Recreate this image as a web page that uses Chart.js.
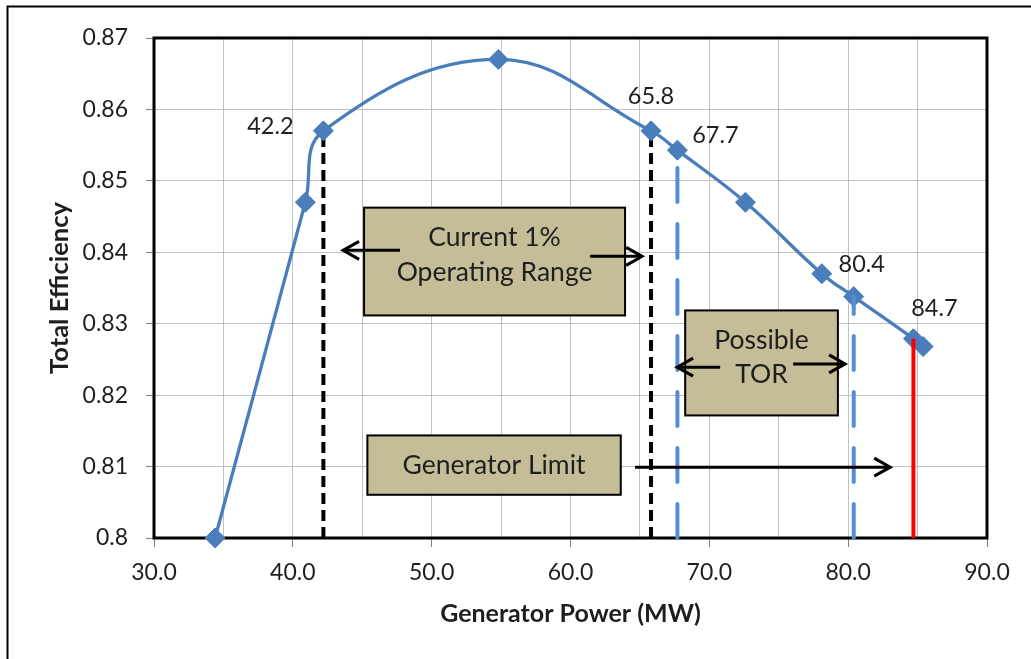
<!DOCTYPE html>
<html><head><meta charset="utf-8">
<script src="https://cdn.jsdelivr.net/npm/chart.js@4.4.1/dist/chart.umd.min.js"></script>
<style>html,body{margin:0;padding:0;background:#fff;}canvas{display:block;}</style>
</head><body>
<canvas id="c" width="1031" height="659"></canvas>
<script>
// ---- data ----
const powerMW    = [34.4, 40.9, 42.2, 54.8, 65.8, 67.7, 72.6, 78.1, 80.4, 84.7, 85.4];
const efficiency = [0.800, 0.847, 0.857, 0.867, 0.857, 0.8543, 0.847, 0.837, 0.8338, 0.8279, 0.8268];
const xGridValues = [30, 35, 40, 45, 50, 55, 60, 65, 70, 75, 80, 85, 90];
const xTickValues = [30, 40, 50, 60, 70, 80, 90];
const xTickLabels = ['30.0', '40.0', '50.0', '60.0', '70.0', '80.0', '90.0'];
const yTickValues = [0.80, 0.81, 0.82, 0.83, 0.84, 0.85, 0.86, 0.87];
const yTickLabels = ['0.8', '0.81', '0.82', '0.83', '0.84', '0.85', '0.86', '0.87'];
const currentRange = [42.2, 65.8];
const possibleTOR = [67.7, 80.4];
const generatorLimit = [84.7];
const labeledPoints = [42.2, 65.8, 67.7, 80.4, 84.7];
const boxTexts = [['Current 1%', 'Operating Range'], ['Possible', 'TOR'], ['Generator Limit']];

// ---- annotation geometry (data coordinates) ----
const boxGeom = [
  {x0: 45.13, x1: 63.93, y0: 0.84625, y1: 0.83116},
  {x0: 68.26, x1: 79.26, y0: 0.83186, y1: 0.81716},
  {x0: 45.37, x1: 63.62, y0: 0.81436, y1: 0.80605}
];
const arrowGeom = [
  {from: [47.72, 0.84027], to: [43.62, 0.84027]},
  {from: [61.41, 0.83943], to: [65.16, 0.83943]},
  {from: [70.78, 0.82392], to: [67.68, 0.82392]},
  {from: [76.04, 0.82437], to: [79.78, 0.82437]},
  {from: [64.65, 0.80992], to: [83.03, 0.80992]}
];
const labelOffsets = [[-53, -4], [0, -34], [38, -15], [8, -32], [21, -30]];

const FONT = 'Lato';
const TEXT = '#1e1e1e';
const yAt = x => efficiency[powerMW.indexOf(x)];

function vline(x, color, width, dash, order, cap) {
  return {
    data: [{x: x, y: yTickValues[0]}, {x: x, y: yAt(x)}],
    borderColor: color, borderWidth: width, borderDash: dash, borderCapStyle: cap || 'butt',
    pointRadius: 0, tension: 0, order: order, clip: false
  };
}

const datasets = [
  {
    data: powerMW.map((x, i) => ({x: x, y: efficiency[i]})),
    borderColor: '#4A7EBB', backgroundColor: '#4A7EBB', borderWidth: 3.3,
    pointStyle: 'rectRot', pointRadius: 10, pointBorderWidth: 1,
    pointBackgroundColor: '#4A7EBB', pointBorderColor: '#4A7EBB',
    tension: 0.4, clip: false, order: 1
  },
  ...currentRange.map(x => vline(x, '#000000', 4, [11, 6], 2)),
  ...possibleTOR.map(x => vline(x, '#558ED5', 4, [34, 22], 0, 'round')),
  ...generatorLimit.map(x => vline(x, '#FF0000', 4, [], 0))
];

const annot = {
  id: 'annot',
  beforeDraw(chart) {
    const ctx = chart.ctx;
    ctx.save();
    ctx.fillStyle = '#fff';
    ctx.fillRect(0, 0, chart.width, chart.height);
    ctx.strokeStyle = '#000'; ctx.lineWidth = 2;
    ctx.beginPath();
    ctx.moveTo(7.5, chart.height + 5);
    ctx.lineTo(7.5, 6.5);
    ctx.lineTo(chart.width + 5, 6.5);
    ctx.stroke();
    ctx.restore();
  },
  beforeDatasetsDraw(chart) {
    const {ctx, chartArea: a, scales: {x, y}} = chart;
    ctx.save();
    ctx.strokeStyle = '#000'; ctx.lineWidth = 3;
    ctx.strokeRect(a.left, a.top, a.right - a.left, a.bottom - a.top);
    boxGeom.forEach((b, i) => {
      const l = x.getPixelForValue(b.x0), r = x.getPixelForValue(b.x1);
      const t = y.getPixelForValue(b.y0), bt = y.getPixelForValue(b.y1);
      ctx.fillStyle = '#C4BD97';
      ctx.fillRect(l, t, r - l, bt - t);
      ctx.lineWidth = 2; ctx.strokeStyle = '#000';
      ctx.strokeRect(l, t, r - l, bt - t);
      ctx.fillStyle = TEXT;
      ctx.font = '26.5px ' + FONT;
      ctx.textAlign = 'center'; ctx.textBaseline = 'middle';
      boxTexts[i].forEach((s, k) => ctx.fillText(s, (l + r) / 2, t + 30 + k * 34.5));
    });
    ctx.restore();
  },
  afterDatasetsDraw(chart) {
    const {ctx, scales: {x, y}} = chart;
    ctx.save();
    ctx.strokeStyle = '#000'; ctx.lineWidth = 3; ctx.lineCap = 'butt'; ctx.lineJoin = 'miter';
    arrowGeom.forEach(g => {
      const x0 = x.getPixelForValue(g.from[0]), y0 = y.getPixelForValue(g.from[1]);
      const x1 = x.getPixelForValue(g.to[0]), y1 = y.getPixelForValue(g.to[1]);
      const dir = Math.sign(x1 - x0);
      ctx.beginPath(); ctx.moveTo(x0, y0); ctx.lineTo(x1 - dir * 2, y1); ctx.stroke();
      ctx.beginPath();
      ctx.moveTo(x1 - dir * 16, y1 - 9); ctx.lineTo(x1, y1); ctx.lineTo(x1 - dir * 16, y1 + 9);
      ctx.stroke();
    });
    ctx.fillStyle = TEXT; ctx.font = '23.5px ' + FONT;
    ctx.textAlign = 'center'; ctx.textBaseline = 'middle';
    labeledPoints.forEach((v, i) => {
      const px = x.getPixelForValue(v), py = y.getPixelForValue(yAt(v));
      ctx.fillText(v.toFixed(1), px + labelOffsets[i][0], py + labelOffsets[i][1]);
    });
    ctx.restore();
  }
};

new Chart(document.getElementById('c'), {
  type: 'line',
  data: {datasets: datasets},
  plugins: [annot],
  options: {
    responsive: false, animation: false, devicePixelRatio: 1,
    layout: {padding: {left: 0, right: 44, top: 38, bottom: 0}},
    plugins: {legend: {display: false}, tooltip: {enabled: false}},
    scales: {
      x: {
        type: 'linear', min: 30, max: 90,
        afterFit: s => { s.height = 121; },
        afterBuildTicks: s => { s.ticks = xGridValues.map(v => ({value: v})); },
        ticks: {
          autoSkip: false, maxRotation: 0, padding: 12, color: TEXT,
          font: {family: FONT, size: 23},
          callback: v => { const i = xTickValues.indexOf(v); return i >= 0 ? xTickLabels[i] : ''; }
        },
        grid: {
          color: '#C0C0C0', lineWidth: 1, tickLength: 9,
          tickColor: c => (c.tick && xTickValues.includes(c.tick.value)) ? '#808080' : 'rgba(0,0,0,0)'
        },
        border: {display: false},
        title: {display: true, text: 'Generator Power (MW)', color: TEXT,
          font: {family: FONT, size: 25, weight: 'bold'}, padding: {top: 0, bottom: 30}}
      },
      y: {
        min: 0.8, max: 0.87,
        afterFit: s => { s.width = 154; },
        afterBuildTicks: s => { s.ticks = yTickValues.map(v => ({value: v})); },
        ticks: {
          padding: 18, color: TEXT, font: {family: FONT, size: 23},
          callback: v => { const i = yTickValues.findIndex(t => Math.abs(t - v) < 1e-9); return i >= 0 ? yTickLabels[i] : ''; }
        },
        grid: {color: '#C0C0C0', lineWidth: 1, tickLength: 8, tickColor: '#808080'},
        border: {display: false},
        title: {display: true, text: 'Total Efficiency', color: TEXT,
          font: {family: FONT, size: 25.5, weight: 'bold'}, padding: {top: 44.5, bottom: 0}}
      }
    }
  }
});
</script>
</body></html>
